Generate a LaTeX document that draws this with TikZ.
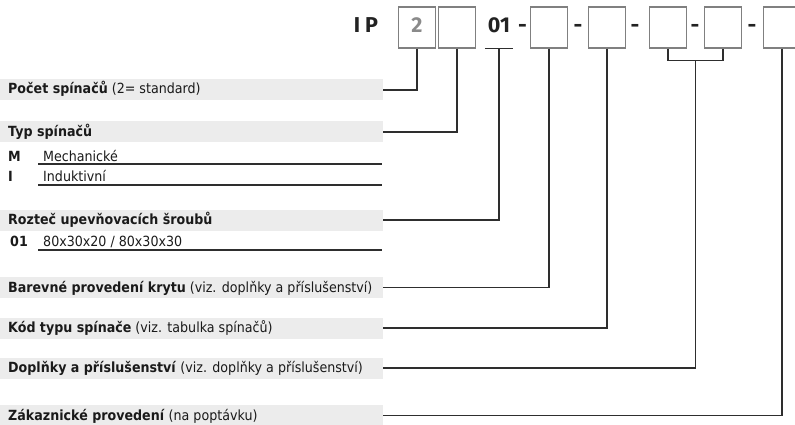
\documentclass[tikz,border=0pt]{standalone}
\usepackage{fontspec}
\newfontfamily\lblfont{DejaVu Sans}[FakeStretch=0.905]
\newfontfamily\codefont{Fira Sans}
\usetikzlibrary{calc}
\definecolor{barc}{HTML}{ECECEC}
\definecolor{boxc}{HTML}{808080}
\definecolor{linec}{HTML}{2E2E2E}
\definecolor{txtc}{HTML}{1A1A1A}
\definecolor{codec}{HTML}{222222}
\definecolor{twoc}{HTML}{8A8A8A}
\begin{document}
\begin{tikzpicture}[x=1pt,y=-1pt,
  bar/.style={fill=barc,draw=none,minimum width=383pt,minimum height=21pt,inner sep=0,anchor=west},
  head/.style={anchor=base west,inner sep=0,text=txtc,font=\lblfont\fontsize{14}{16}\selectfont},
  cbox/.style={draw=boxc,line width=1.2pt,minimum width=37pt,minimum height=41pt,inner sep=0},
  code/.style={inner sep=0,anchor=base,font=\codefont\bfseries\fontsize{21.5}{24}\selectfont,text=codec},
  conn/.style={draw=linec,line width=1.1pt},
  uline/.style={draw=linec,line width=1.1pt},
]
\useasboundingbox (0,0) rectangle (795,425);

% label bars
\node[bar] (bar1) at (0,90) {};
\node[bar] (bar2) at (0,132) {};
\node[bar] (bar3) at (0,220) {};
\node[bar] (bar4) at (0,287.5) {};
\node[bar] (bar5) at (0,328) {};
\node[bar] (bar6) at (0,368) {};
\node[bar] (bar7) at (0,415.5) {};

% label texts
\node[head] (t1) at (8,94) {\textbf{Počet spínačů} (2= standard)};
\node[head] (t2) at (8,136) {\textbf{Typ spínačů}};
\node[head] (m1) at (8,161) {\textbf{M}};
\node[head] (m2) at (43,161) {Mechanické};
\node[head] (i1) at (8,182) {\textbf{I}};
\node[head] (i2) at (43,182) {Induktivní};
\node[head] (t3) at (8,224) {\textbf{Rozteč upevňovacích šroubů}};
\node[head] (o1c) at (10,246) {\textbf{01}};
\node[head] (o1t) at (43,246) {80x30x20 / 80x30x30};
\node[head] (t4) at (8,292) {\textbf{Barevné provedení krytu} (viz. doplňky a příslušenství)};
\node[head] (t5) at (8,332) {\textbf{Kód typu spínače} (viz. tabulka spínačů)};
\node[head] (t6) at (8,372) {\textbf{Doplňky a příslušenství} (viz. doplňky a příslušenství)};
\node[head] (t7) at (8,420) {\textbf{Zákaznické provedení} (na poptávku)};

% row underlines
\draw[uline] (38,164) -- (382,164);
\draw[uline] (38,185) -- (382,185);
\draw[uline] (38,250) -- (382,250);

% code header
\node[code] (ip) at (366,33) {I\hspace{5pt}P};
\node[cbox] (b1) at (417,27.5) {};
\node[code,text=twoc] (n2) at (417,33) {2};
\node[cbox] (b2) at (457,27.5) {};
\node[inner sep=0,minimum width=28pt,minimum height=41pt] (o1) at (499,27.5) {};
\node[code] (o1txt) at (499,33) {01};
\draw[uline] (o1.south west) -- (o1.south east);
\node[code] (d1) at (522.5,33) {-};
\node[cbox] (b3) at (549,27.5) {};
\node[code] (d2) at (578,33) {-};
\node[cbox] (b4) at (607,27.5) {};
\node[code] (d3) at (635,33) {-};
\node[cbox] (b5) at (668,27.5) {};
\node[code] (d4) at (695,33) {-};
\node[cbox] (b6) at (723,27.5) {};
\node[code] (d5) at (752,33) {-};
\node[cbox] (b7) at (782,27.5) {};

% connectors
\draw[conn] (b1.south) |- (bar1.east);
\draw[conn] (b2.south) |- (bar2.east);
\draw[conn] (o1.south) |- (bar3.east);
\draw[conn] (b3.south) |- (bar4.east);
\draw[conn] (b4.south) |- (bar5.east);
\draw[conn] (b5.south) -- ++(0,12) coordinate (k5) -| (b6.south);
\coordinate (m56) at ($(k5)+(27.5,0)$);
\draw[conn] (m56) |- (bar6.east);
\draw[conn] (b7.south) |- (bar7.east);
\end{tikzpicture}
\end{document}
